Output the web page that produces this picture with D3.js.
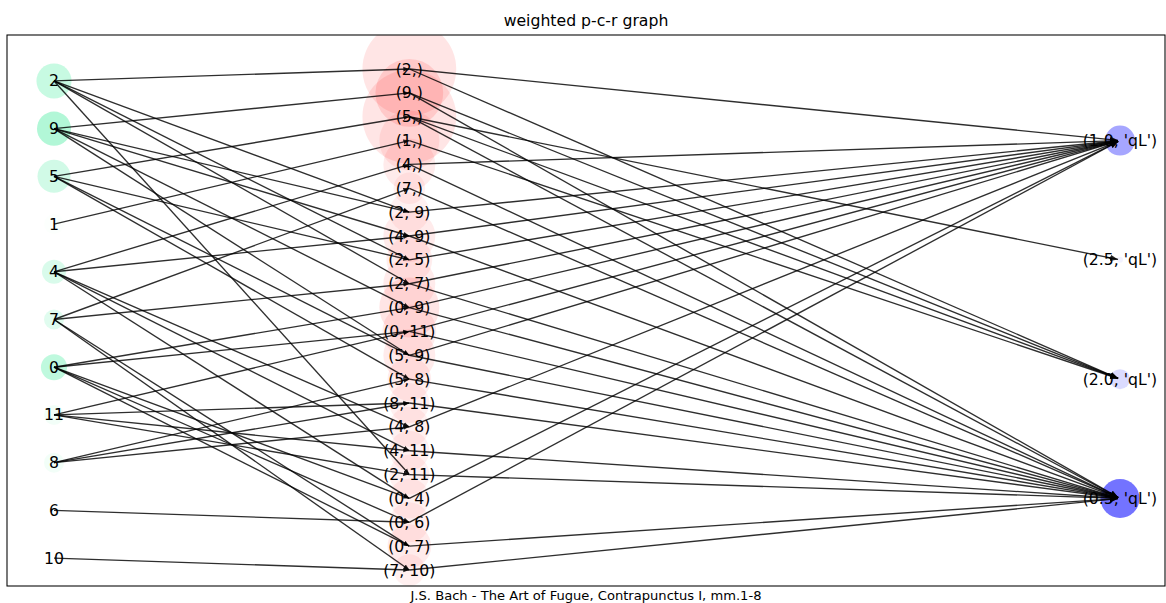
<!DOCTYPE html>
<html>
<head>
<meta charset="utf-8">
<script src="https://cdn.jsdelivr.net/npm/d3@7"></script>
<style>
  html, body { margin: 0; padding: 0; background: #fff; }
  svg { display: block; font-family: "DejaVu Sans", sans-serif; }
</style>
</head>
<body>
<svg id="chart" width="1166" height="603"></svg>
<script>
// ---------- data ----------
const pitchClasses = [2, 9, 5, 1, 4, 7, 0, 11, 8, 6, 10];
const pcSize       = [12.3, 11.6, 10.9, 4, 5.8, 4, 6.8, 4, 4, 0, 0];
const pcWeight     = [22, 30, 18, 1, 15, 12, 25, 5, 5, 0, 0];

const chords = [[2],[9],[5],[1],[4],[7],[2,9],[4,9],[2,5],[2,7],[0,9],[0,11],
                [5,9],[5,8],[8,11],[4,8],[4,11],[2,11],[0,4],[0,6],[0,7],[7,10]];
const chordSize   = [88, 46, 88, 36, 27, 10, 16, 27, 21, 27, 36, 29, 27, 19, 16, 16, 16, 16, 16, 16, 19, 10];
const chordWeight = [10, 12, 10, 8, 8, 6, 6, 8, 7, 8, 10, 8, 8, 7, 6, 6, 6, 6, 6, 6, 8, 6];

const rhythms      = [1.0, 2.5, 2.0, 0.5];
const rhythmSize   = [9, 0.36, 4, 15.2];
const rhythmWeight = [35, 5, 14, 55];

// chord -> rhythm (durations in quarter lengths)
const chordRhythms = [
  [1.0, 2.0], [2.0, 0.5], [2.5, 2.0, 0.5], [2.0], [1.0, 0.5], [0.5],
  [1.0], [1.0, 0.5], [1.0], [1.0, 0.5], [1.0, 0.5], [1.0, 0.5],
  [1.0, 0.5], [0.5], [0.5], [1.0], [0.5], [0.5], [1.0], [1.0], [0.5], [0.5]
];

const title = "weighted p-c-r graph";
const caption = "J.S. Bach - The Art of Fugue, Contrapunctus I, mm.1-8";

// ---------- layout ----------
const W = 1166, H = 603;
const frame = {x0: 7, y0: 35, x1: 1165, y1: 586};
const x = d3.scaleLinear().domain([0, 3]).range([54, 1120]);
const y = d3.scaleLinear().domain([0, 21]).range([69, 570]);
const rScale = d3.scaleSqrt().domain([0, 100]).range([0, 50]);
const aScale = d3.scaleLinear().domain([0, 100]).range([0, 1]);

const chordLabel = c => c.length === 1 ? `(${c[0]},)` : `(${c.join(", ")})`;
const rhythmLabel = r => `(${r.toFixed(1)}, 'qL')`;

const pcNodes = pitchClasses.map((p, j) => ({
  id: "p" + p, label: String(p), cx: x(0), cy: y(2 * j + 0.5),
  r: rScale(pcSize[j]), a: aScale(pcWeight[j]), color: "#00e67a"
}));
const chordNodes = chords.map((c, i) => ({
  id: "c" + c.join("_"), label: chordLabel(c), cx: x(1), cy: y(i),
  r: rScale(chordSize[i]), a: aScale(chordWeight[i]), color: "#ff0000", pcs: c
}));
const rhythmNodes = rhythms.map((r, k) => ({
  id: "r" + r, label: rhythmLabel(r), cx: x(3), cy: y(3 + 5 * k),
  r: rScale(rhythmSize[k]), a: aScale(rhythmWeight[k]), color: "#0000ff"
}));
const byId = {};
[...pcNodes, ...chordNodes, ...rhythmNodes].forEach(n => byId[n.id] = n);

const edges = [];
pcNodes.forEach((pn, j) => {
  chordNodes.forEach(cn => {
    if (cn.pcs.includes(pitchClasses[j])) edges.push({s: pn, t: cn, shrink: 0, m: "arrowS"});
  });
});
chordNodes.forEach((cn, i) => {
  chordRhythms[i].forEach(r => edges.push({s: cn, t: byId["r" + r], shrink: 2, m: "arrowL"}));
});

// ---------- draw ----------
const svg = d3.select("#chart");
const defs = svg.append("defs");
defs.append("clipPath").attr("id", "clip").append("rect")
  .attr("x", frame.x0).attr("y", frame.y0)
  .attr("width", frame.x1 - frame.x0).attr("height", frame.y1 - frame.y0);
[["arrowS", 6, 2.4], ["arrowL", 8, 3.2]].forEach(([id, len, hw]) => {
  defs.append("marker").attr("id", id)
    .attr("markerUnits", "userSpaceOnUse")
    .attr("viewBox", `0 ${-len / 2} ${len} ${len}`)
    .attr("markerWidth", len).attr("markerHeight", len)
    .attr("refX", len).attr("refY", 0).attr("orient", "auto")
    .append("path").attr("d", `M0,${-hw}L${len},0L0,${hw}Z`).attr("fill", "#000").attr("fill-opacity", 0.85);
});

const g = svg.append("g").attr("clip-path", "url(#clip)");

// nodes
g.append("g").selectAll("circle")
  .data([...pcNodes, ...chordNodes, ...rhythmNodes].filter(n => n.r > 0))
  .join("circle")
  .attr("cx", d => d.cx).attr("cy", d => d.cy).attr("r", d => d.r)
  .attr("fill", d => d.color).attr("fill-opacity", d => d.a);

// edges
const endPt = (d, k) => {
  const dx = d.t.cx - d.s.cx, dy = d.t.cy - d.s.cy, L = Math.hypot(dx, dy);
  return k === "x" ? d.t.cx - dx / L * d.shrink : d.t.cy - dy / L * d.shrink;
};
g.append("g").selectAll("line").data(edges).join("line")
  .attr("x1", d => d.s.cx).attr("y1", d => d.s.cy)
  .attr("x2", d => endPt(d, "x")).attr("y2", d => endPt(d, "y"))
  .attr("stroke", "#000").attr("stroke-opacity", 0.82).attr("stroke-width", 1.35)
  .attr("marker-end", d => `url(#${d.m})`);

// labels
svg.append("g").selectAll("text")
  .data([...pcNodes, ...chordNodes, ...rhythmNodes]).join("text")
  .attr("x", d => d.cx).attr("y", d => d.cy)
  .attr("text-anchor", "middle").attr("dominant-baseline", "central")
  .attr("font-size", "15.7px").attr("fill", "#000")
  .text(d => d.label);

// frame
svg.append("rect")
  .attr("x", frame.x0).attr("y", frame.y0)
  .attr("width", frame.x1 - frame.x0).attr("height", frame.y1 - frame.y0)
  .attr("fill", "none").attr("stroke", "#000").attr("stroke-width", 1.05);

// title & caption
svg.append("text").attr("x", (frame.x0 + frame.x1) / 2).attr("y", 26)
  .attr("text-anchor", "middle").attr("font-size", "15.7px").text(title);
svg.append("text").attr("x", (frame.x0 + frame.x1) / 2).attr("y", 600)
  .attr("text-anchor", "middle").attr("font-size", "13.1px").text(caption);
</script>
</body>
</html>
